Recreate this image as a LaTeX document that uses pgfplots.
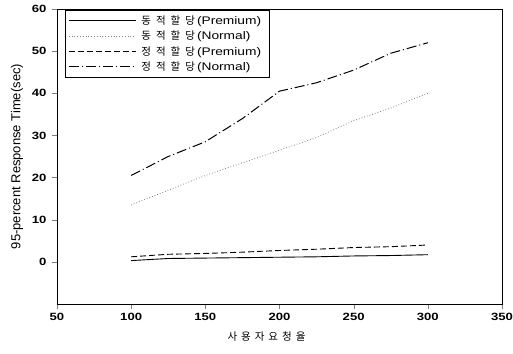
\documentclass[border=0pt]{standalone}
\usepackage{fontspec}
\setmainfont{Liberation Sans}
\newfontfamily\kr{Noto Sans CJK KR}
\newfontfamily\wf[FakeStretch=1.25]{Liberation Sans}
\usepackage{pgfplots}
\pgfplotsset{compat=1.18}
\newcommand{\kl}[4]{{\kr\fontsize{10.5}{13}\selectfont #1\hspace{5pt}#2\hspace{5pt}#3\hspace{5pt}#4}\hspace{2pt}}
\begin{document}
\begin{tikzpicture}
\useasboundingbox (-57pt,-49pt) rectangle (456pt,304pt);
\begin{axis}[
  at={(0,0)}, anchor=south west,
  scale only axis,
  width=445pt, height=295pt,
  xmin=50, xmax=350, ymin=-10, ymax=60,
  xtick={50,100,...,350},
  ytick={0,10,...,60},
  tick pos=left,
  tick align=outside,
  major tick length=5pt,
  /pgf/number format/assume math mode=true,
  ticklabel style={font=\wf\bfseries\fontsize{10.5}{12}\selectfont},
  yticklabel style={xshift=-2pt},
  xticklabel style={yshift=-1pt},
  xlabel={\kr 사\hspace{4pt}용\hspace{4pt}자\hspace{4pt}요\hspace{4pt}청\hspace{4pt}율},
  ylabel={95-percent Response Time(sec)},
  xlabel style={font=\fontsize{10.5}{12}\selectfont, yshift=-4pt, xshift=-13pt},
  ylabel style={font=\fontsize{13}{15}\selectfont, yshift=2pt},
  axis line style={line width=0.9pt},
  legend cell align=left,
  legend style={at={(rel axis cs:0.018,0.997)}, anchor=north west,
    font=\wf\fontsize{11}{13}\selectfont, draw=black, line width=0.7pt,
    inner xsep=3pt, inner ysep=3.5pt, row sep=1pt,
    nodes={inner xsep=5pt}},
  legend image code/.code={\draw[#1] (0pt,0pt) -- (67pt,0pt);},
]
\addplot[black, line width=0.9pt] coordinates {
(100,0.3)(125,0.8)(150,0.9)(175,1.0)(200,1.1)(225,1.2)(250,1.4)(275,1.5)(300,1.7)};
\addlegendentry{\kl{동}{적}{할}{당}(Premium)}
\addplot[gray, line width=0.8pt, dash pattern=on 0.8pt off 2pt] coordinates {
(100,13.5)(125,17)(150,20.5)(175,23.5)(200,26.5)(225,29.5)(250,33.5)(275,36.5)(300,40)};
\addlegendentry{\kl{동}{적}{할}{당}(Normal)}
\addplot[black, line width=0.9pt, dash pattern=on 6pt off 3pt] coordinates {
(100,1.2)(125,1.8)(150,2.0)(175,2.3)(200,2.7)(225,3.0)(250,3.4)(275,3.6)(300,4.0)};
\addlegendentry{\kl{정}{적}{할}{당}(Premium)}
\addplot[black, line width=1pt, dash pattern=on 10pt off 3pt on 1pt off 3pt] coordinates {
(100,20.5)(125,25)(150,28.5)(175,34)(200,40.5)(225,42.5)(250,45.5)(275,49.5)(300,52)};
\addlegendentry{\kl{정}{적}{할}{당}(Normal)}
\end{axis}
\end{tikzpicture}
\end{document}
